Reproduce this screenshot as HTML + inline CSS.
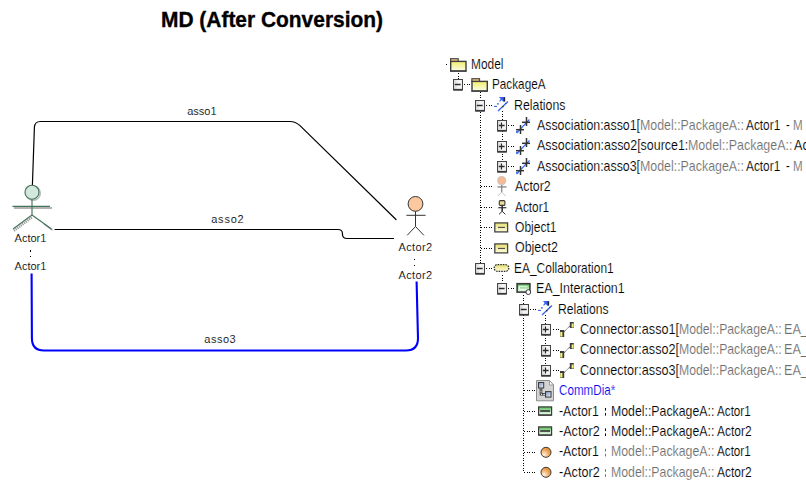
<!DOCTYPE html>
<html><head><meta charset="utf-8">
<style>
html,body{margin:0;padding:0;background:#fff;width:806px;height:491px;overflow:hidden;position:relative}
.t{position:absolute;white-space:pre;font-family:"Liberation Sans",sans-serif;font-size:14.5px;line-height:14.5px;transform-origin:0 0;-webkit-text-stroke:0.15px #fff}
.d{position:absolute;white-space:pre;font-family:"Liberation Sans",sans-serif;font-size:11px;line-height:11px;color:#000;transform-origin:0 0;-webkit-text-stroke:0.12px #fff}
.title{position:absolute;white-space:pre;font-family:"Liberation Sans",sans-serif;font-weight:bold;font-size:22px;line-height:22px;color:#000;transform-origin:0 0;transform:scaleX(0.951);-webkit-text-stroke:0.35px #000}
svg{position:absolute;left:0;top:0}
</style></head><body>
<svg width="806" height="491" viewBox="0 0 806 491">
<defs>
<linearGradient id="gfold" x1="0" y1="0" x2="0" y2="1"><stop offset="0" stop-color="#f0ee6c"/><stop offset="1" stop-color="#fdfde8"/></linearGradient>
<linearGradient id="gexp" x1="0" y1="0" x2="1" y2="0"><stop offset="0" stop-color="#d2d2d2"/><stop offset="0.55" stop-color="#f8f8f8"/><stop offset="1" stop-color="#ececec"/></linearGradient>
<linearGradient id="gobj" x1="0" y1="0" x2="0" y2="1"><stop offset="0" stop-color="#e8e070"/><stop offset="1" stop-color="#fdfbe0"/></linearGradient>
<linearGradient id="ggreen" x1="0" y1="0" x2="0" y2="1"><stop offset="0" stop-color="#50b850"/><stop offset="0.45" stop-color="#a8dca8"/><stop offset="1" stop-color="#f4fcf4"/></linearGradient>
<radialGradient id="gorange" cx="0.3" cy="0.75" r="0.8"><stop offset="0" stop-color="#fff4e6"/><stop offset="0.6" stop-color="#f0a860"/><stop offset="1" stop-color="#e08830"/></radialGradient>
<linearGradient id="gsq" x1="0" y1="0" x2="1" y2="1"><stop offset="0" stop-color="#7890c0"/><stop offset="1" stop-color="#f0f4fa"/></linearGradient>
</defs>
<g fill="none" stroke="#000" stroke-width="1.2" stroke-linecap="round" stroke-linejoin="round">
<path d="M32.4 185 L34.4 127.5 Q34.6 121.5 40.5 121.5 L290 121.5 Q295.5 121.5 300 125.6 L396 219.5"/>
<path d="M55 229.5 L338 229.5 Q342.4 229.5 342.4 233.4 L342.4 234 Q342.4 238.5 347 238.5 L393.5 238.5"/>
</g>
<path d="M31.6 273.5 L31.9 338.3 Q31.9 350.5 44 350.5 L406 350.5 Q418 350.5 418 338.3 L416.6 281.5" fill="none" stroke="#0000ff" stroke-width="2.1" stroke-linejoin="round"/>
<g fill="none" stroke="#9a9a9a" stroke-width="1.6"><line x1="14" y1="208" x2="52" y2="208"/><line x1="14" y1="230.8" x2="32.5" y2="217" stroke-width="2.4" stroke-dasharray="1.2 0.9"/><line x1="44" y1="224" x2="52.5" y2="230.2" stroke-width="1.2"/><circle cx="33.3" cy="193.3" r="7" stroke="#bbb"/></g>
<g stroke="#44735a" stroke-width="1.15" fill="none"><circle cx="32" cy="192.2" r="7" fill="#d2e8dc"/><line x1="32" y1="199.3" x2="32" y2="215"/><line x1="12.5" y1="206.4" x2="50" y2="206.4"/><line x1="32" y1="215" x2="13" y2="229"/><line x1="32" y1="215" x2="51.5" y2="229"/></g>
<g stroke="#333" stroke-width="1" fill="none"><circle cx="415.5" cy="203.9" r="7.4" fill="#fbc8a0"/><line x1="415.5" y1="211.4" x2="415.5" y2="226.5"/><line x1="406.4" y1="215.3" x2="425.6" y2="215.3"/><line x1="415.5" y1="226.5" x2="407.2" y2="235.3"/><line x1="415.5" y1="226.5" x2="423.9" y2="235.3"/></g>
<rect x="446" y="64" width="1" height="1" fill="#000"/>
<line x1="458.5" y1="73.0" x2="458.5" y2="79.0" stroke="#000" stroke-width="1" stroke-dasharray="1 2 1 1" fill="none"/>
<line x1="464" y1="84.5" x2="470" y2="84.5" stroke="#000" stroke-width="1" stroke-dasharray="1 2 1 1" fill="none"/>
<line x1="480.5" y1="92.0" x2="480.5" y2="268.5" stroke="#000" stroke-width="1" stroke-dasharray="1 2 1 1" fill="none"/>
<line x1="486" y1="105.5" x2="492" y2="105.5" stroke="#000" stroke-width="1" stroke-dasharray="1 2 1 1" fill="none"/>
<line x1="481" y1="186.5" x2="492" y2="186.5" stroke="#000" stroke-width="1" stroke-dasharray="1 2 1 1" fill="none"/>
<line x1="481" y1="207.5" x2="492" y2="207.5" stroke="#000" stroke-width="1" stroke-dasharray="1 2 1 1" fill="none"/>
<line x1="481" y1="227.5" x2="492" y2="227.5" stroke="#000" stroke-width="1" stroke-dasharray="1 2 1 1" fill="none"/>
<line x1="481" y1="248.5" x2="492" y2="248.5" stroke="#000" stroke-width="1" stroke-dasharray="1 2 1 1" fill="none"/>
<line x1="486" y1="268.5" x2="492" y2="268.5" stroke="#000" stroke-width="1" stroke-dasharray="1 2 1 1" fill="none"/>
<line x1="502.5" y1="111.0" x2="502.5" y2="166.5" stroke="#000" stroke-width="1" stroke-dasharray="1 2 1 1" fill="none"/>
<line x1="508" y1="125.5" x2="514" y2="125.5" stroke="#000" stroke-width="1" stroke-dasharray="1 2 1 1" fill="none"/>
<line x1="508" y1="146.5" x2="514" y2="146.5" stroke="#000" stroke-width="1" stroke-dasharray="1 2 1 1" fill="none"/>
<line x1="508" y1="166.5" x2="514" y2="166.5" stroke="#000" stroke-width="1" stroke-dasharray="1 2 1 1" fill="none"/>
<line x1="502.5" y1="275.0" x2="502.5" y2="283.0" stroke="#000" stroke-width="1" stroke-dasharray="1 2 1 1" fill="none"/>
<line x1="508" y1="288.5" x2="515" y2="288.5" stroke="#000" stroke-width="1" stroke-dasharray="1 2 1 1" fill="none"/>
<line x1="523.5" y1="295.0" x2="523.5" y2="472.5" stroke="#000" stroke-width="1" stroke-dasharray="1 2 1 1" fill="none"/>
<line x1="530" y1="309.5" x2="536" y2="309.5" stroke="#000" stroke-width="1" stroke-dasharray="1 2 1 1" fill="none"/>
<line x1="524" y1="390.5" x2="535" y2="390.5" stroke="#000" stroke-width="1" stroke-dasharray="1 2 1 1" fill="none"/>
<line x1="524" y1="411.5" x2="535" y2="411.5" stroke="#000" stroke-width="1" stroke-dasharray="1 2 1 1" fill="none"/>
<line x1="524" y1="431.5" x2="535" y2="431.5" stroke="#000" stroke-width="1" stroke-dasharray="1 2 1 1" fill="none"/>
<line x1="524" y1="452.5" x2="535" y2="452.5" stroke="#000" stroke-width="1" stroke-dasharray="1 2 1 1" fill="none"/>
<line x1="524" y1="472.5" x2="535" y2="472.5" stroke="#000" stroke-width="1" stroke-dasharray="1 2 1 1" fill="none"/>
<line x1="545.5" y1="315.0" x2="545.5" y2="370.5" stroke="#000" stroke-width="1" stroke-dasharray="1 2 1 1" fill="none"/>
<line x1="553" y1="329.5" x2="559" y2="329.5" stroke="#000" stroke-width="1" stroke-dasharray="1 2 1 1" fill="none"/>
<line x1="553" y1="350.5" x2="559" y2="350.5" stroke="#000" stroke-width="1" stroke-dasharray="1 2 1 1" fill="none"/>
<line x1="553" y1="370.5" x2="559" y2="370.5" stroke="#000" stroke-width="1" stroke-dasharray="1 2 1 1" fill="none"/>
<g transform="translate(453,84.50)"><rect x="0.5" y="-5" width="9" height="10.5" fill="url(#gexp)" stroke="#454545" stroke-width="1"/><line x1="0.5" y1="5.2" x2="9.5" y2="5.2" stroke="#3a3a3a" stroke-width="1.6"/><line x1="1.8" y1="0" x2="7.6" y2="0" stroke="#2a2a2a" stroke-width="1.45"/></g>
<g transform="translate(475,105.50)"><rect x="0.5" y="-5" width="9" height="10.5" fill="url(#gexp)" stroke="#454545" stroke-width="1"/><line x1="0.5" y1="5.2" x2="9.5" y2="5.2" stroke="#3a3a3a" stroke-width="1.6"/><line x1="1.8" y1="0" x2="7.6" y2="0" stroke="#2a2a2a" stroke-width="1.45"/></g>
<g transform="translate(497,125.50)"><rect x="0.5" y="-5" width="9" height="10.5" fill="url(#gexp)" stroke="#454545" stroke-width="1"/><line x1="0.5" y1="5.2" x2="9.5" y2="5.2" stroke="#3a3a3a" stroke-width="1.6"/><line x1="1.8" y1="0" x2="7.6" y2="0" stroke="#2a2a2a" stroke-width="1.45"/><line x1="4.5" y1="-3" x2="4.5" y2="3" stroke="#2a2a2a" stroke-width="1.2"/></g>
<g transform="translate(497,146.50)"><rect x="0.5" y="-5" width="9" height="10.5" fill="url(#gexp)" stroke="#454545" stroke-width="1"/><line x1="0.5" y1="5.2" x2="9.5" y2="5.2" stroke="#3a3a3a" stroke-width="1.6"/><line x1="1.8" y1="0" x2="7.6" y2="0" stroke="#2a2a2a" stroke-width="1.45"/><line x1="4.5" y1="-3" x2="4.5" y2="3" stroke="#2a2a2a" stroke-width="1.2"/></g>
<g transform="translate(497,166.50)"><rect x="0.5" y="-5" width="9" height="10.5" fill="url(#gexp)" stroke="#454545" stroke-width="1"/><line x1="0.5" y1="5.2" x2="9.5" y2="5.2" stroke="#3a3a3a" stroke-width="1.6"/><line x1="1.8" y1="0" x2="7.6" y2="0" stroke="#2a2a2a" stroke-width="1.45"/><line x1="4.5" y1="-3" x2="4.5" y2="3" stroke="#2a2a2a" stroke-width="1.2"/></g>
<g transform="translate(475,268.50)"><rect x="0.5" y="-5" width="9" height="10.5" fill="url(#gexp)" stroke="#454545" stroke-width="1"/><line x1="0.5" y1="5.2" x2="9.5" y2="5.2" stroke="#3a3a3a" stroke-width="1.6"/><line x1="1.8" y1="0" x2="7.6" y2="0" stroke="#2a2a2a" stroke-width="1.45"/></g>
<g transform="translate(497,288.50)"><rect x="0.5" y="-5" width="9" height="10.5" fill="url(#gexp)" stroke="#454545" stroke-width="1"/><line x1="0.5" y1="5.2" x2="9.5" y2="5.2" stroke="#3a3a3a" stroke-width="1.6"/><line x1="1.8" y1="0" x2="7.6" y2="0" stroke="#2a2a2a" stroke-width="1.45"/></g>
<g transform="translate(519,309.50)"><rect x="0.5" y="-5" width="9" height="10.5" fill="url(#gexp)" stroke="#454545" stroke-width="1"/><line x1="0.5" y1="5.2" x2="9.5" y2="5.2" stroke="#3a3a3a" stroke-width="1.6"/><line x1="1.8" y1="0" x2="7.6" y2="0" stroke="#2a2a2a" stroke-width="1.45"/></g>
<g transform="translate(541,329.50)"><rect x="0.5" y="-5" width="9" height="10.5" fill="url(#gexp)" stroke="#454545" stroke-width="1"/><line x1="0.5" y1="5.2" x2="9.5" y2="5.2" stroke="#3a3a3a" stroke-width="1.6"/><line x1="1.8" y1="0" x2="7.6" y2="0" stroke="#2a2a2a" stroke-width="1.45"/><line x1="4.5" y1="-3" x2="4.5" y2="3" stroke="#2a2a2a" stroke-width="1.2"/></g>
<g transform="translate(541,350.50)"><rect x="0.5" y="-5" width="9" height="10.5" fill="url(#gexp)" stroke="#454545" stroke-width="1"/><line x1="0.5" y1="5.2" x2="9.5" y2="5.2" stroke="#3a3a3a" stroke-width="1.6"/><line x1="1.8" y1="0" x2="7.6" y2="0" stroke="#2a2a2a" stroke-width="1.45"/><line x1="4.5" y1="-3" x2="4.5" y2="3" stroke="#2a2a2a" stroke-width="1.2"/></g>
<g transform="translate(541,370.50)"><rect x="0.5" y="-5" width="9" height="10.5" fill="url(#gexp)" stroke="#454545" stroke-width="1"/><line x1="0.5" y1="5.2" x2="9.5" y2="5.2" stroke="#3a3a3a" stroke-width="1.6"/><line x1="1.8" y1="0" x2="7.6" y2="0" stroke="#2a2a2a" stroke-width="1.45"/><line x1="4.5" y1="-3" x2="4.5" y2="3" stroke="#2a2a2a" stroke-width="1.2"/></g>
<g transform="translate(450.2,64.50)"><rect x="0.4" y="-5.8" width="7.6" height="3" fill="#f6c684" stroke="#4a4a4a" stroke-width="1.2"/><rect x="0.5" y="-3.1" width="15.3" height="9.6" fill="url(#gfold)" stroke="#3e3e3e" stroke-width="1.4"/><line x1="0" y1="6.6" x2="16.3" y2="6.6" stroke="#3a3a3a" stroke-width="1.2"/></g>
<g transform="translate(471.5,84.50)"><rect x="0.4" y="-5.8" width="7.6" height="3" fill="#f6c684" stroke="#4a4a4a" stroke-width="1.2"/><rect x="0.5" y="-3.1" width="15.3" height="9.6" fill="url(#gfold)" stroke="#3e3e3e" stroke-width="1.4"/><line x1="0" y1="6.6" x2="16.3" y2="6.6" stroke="#3a3a3a" stroke-width="1.2"/></g>
<g transform="translate(493.5,105.50)"><path d="M4.5 5.5 L14.5 -4" stroke="#3a62f0" stroke-width="1.3"/><path d="M5.5 -8.5 L11.6 -8.5 L11.6 -4 L9.6 -4 L8.2 -5.6 L6.6 -4 L5.5 -4.3 L7.2 -6.6 Z" fill="#3a62f0"/><rect x="10.1" y="-8.2" width="1.5" height="4.2" fill="#223"/><line x1="0.5" y1="0.9" x2="3.5" y2="0.9" stroke="#3a62f0" stroke-width="1.1"/><rect x="3.6" y="-2.4" width="1.6" height="1.5" fill="#3a62f0"/><rect x="8.6" y="0.4" width="1.4" height="1.4" fill="#333"/><rect x="11.8" y="-2.6" width="1" height="1" fill="#333"/></g>
<g transform="translate(537.5,309.50)"><path d="M4.5 5.5 L14.5 -4" stroke="#3a62f0" stroke-width="1.3"/><path d="M5.5 -8.5 L11.6 -8.5 L11.6 -4 L9.6 -4 L8.2 -5.6 L6.6 -4 L5.5 -4.3 L7.2 -6.6 Z" fill="#3a62f0"/><rect x="10.1" y="-8.2" width="1.5" height="4.2" fill="#223"/><line x1="0.5" y1="0.9" x2="3.5" y2="0.9" stroke="#3a62f0" stroke-width="1.1"/><rect x="3.6" y="-2.4" width="1.6" height="1.5" fill="#3a62f0"/><rect x="8.6" y="0.4" width="1.4" height="1.4" fill="#333"/><rect x="11.8" y="-2.6" width="1" height="1" fill="#333"/></g>
<g transform="translate(515.5,125.50)"><path d="M1 7.5 L14 -6" stroke="#3a70f0" stroke-width="1.2"/><g stroke="#333" stroke-width="1.5"><line x1="6.5" y1="-3.2" x2="14.5" y2="-3.2"/><line x1="11" y1="-8.5" x2="11" y2="0.5"/><line x1="0.5" y1="4.2" x2="8.5" y2="4.2"/><line x1="5" y1="-0.5" x2="5" y2="8.5"/></g><rect x="0.5" y="5.5" width="2.5" height="1.5" fill="#3a70f0"/></g>
<g transform="translate(515.5,146.50)"><path d="M1 7.5 L14 -6" stroke="#3a70f0" stroke-width="1.2"/><g stroke="#333" stroke-width="1.5"><line x1="6.5" y1="-3.2" x2="14.5" y2="-3.2"/><line x1="11" y1="-8.5" x2="11" y2="0.5"/><line x1="0.5" y1="4.2" x2="8.5" y2="4.2"/><line x1="5" y1="-0.5" x2="5" y2="8.5"/></g><rect x="0.5" y="5.5" width="2.5" height="1.5" fill="#3a70f0"/></g>
<g transform="translate(515.5,166.50)"><path d="M1 7.5 L14 -6" stroke="#3a70f0" stroke-width="1.2"/><g stroke="#333" stroke-width="1.5"><line x1="6.5" y1="-3.2" x2="14.5" y2="-3.2"/><line x1="11" y1="-8.5" x2="11" y2="0.5"/><line x1="0.5" y1="4.2" x2="8.5" y2="4.2"/><line x1="5" y1="-0.5" x2="5" y2="8.5"/></g><rect x="0.5" y="5.5" width="2.5" height="1.5" fill="#3a70f0"/></g>
<g transform="translate(497,186.50)"><ellipse cx="4.7" cy="-5.9" rx="4" ry="4.2" fill="#f4bc96" stroke="#c0c0c0" stroke-width="0.8"/><line x1="0.5" y1="0.4" x2="9.5" y2="0.4" stroke="#9a9a9a" stroke-width="1.6"/><line x1="4.7" y1="-1.6" x2="4.7" y2="5.5" stroke="#888" stroke-width="1.3"/><path d="M1 9.6 L4.7 5.5 L8.7 9.6" stroke="#c4c4c4" stroke-width="1" fill="none"/></g>
<g transform="translate(498,207.50)"><rect x="1.3" y="-6.9" width="5.6" height="4.8" rx="1" fill="#ecdc98" stroke="#3a3a3a" stroke-width="1.1"/><line x1="0.3" y1="0.2" x2="8.3" y2="0.2" stroke="#333" stroke-width="1.2"/><line x1="4.2" y1="-2" x2="4.2" y2="4" stroke="#333" stroke-width="1.6"/><path d="M1 6.8 L4.2 3.8 L7.4 6.8" stroke="#333" stroke-width="1" fill="none"/></g>
<g transform="translate(494,227.50)"><rect x="0.8" y="-4.6" width="12.8" height="9" fill="url(#gobj)" stroke="#444" stroke-width="1.3"/><line x1="4" y1="-0.1" x2="11" y2="-0.1" stroke="#454545" stroke-width="1.1"/></g>
<g transform="translate(494,248.50)"><rect x="0.8" y="-4.6" width="12.8" height="9" fill="url(#gobj)" stroke="#444" stroke-width="1.3"/><line x1="4" y1="-0.1" x2="11" y2="-0.1" stroke="#454545" stroke-width="1.1"/></g>
<g transform="translate(493.4,268.50)"><rect x="0.8" y="-3.9" width="14.6" height="6.8" rx="3.4" fill="url(#gobj)" stroke="#2c2c2c" stroke-width="1.3" stroke-dasharray="1.6 1"/></g>
<g transform="translate(516.3,288.50)"><rect x="0.8" y="-4.8" width="12.8" height="8.4" fill="url(#ggreen)" stroke="#3a3a3a" stroke-width="1.6"/><path d="M3 -2.2 L11 -2.2 M3.5 1 L11 1 M3 -2.2 L3 1" stroke="#f0fff0" stroke-width="0.9" fill="none"/><circle cx="12" cy="3.6" r="2.4" fill="#fff" stroke="#333" stroke-width="1"/></g>
<g transform="translate(559.8,329.50)"><line x1="4" y1="2.5" x2="10.5" y2="-4" stroke="#333" stroke-width="0.9" stroke-dasharray="1.2 0.6"/><rect x="0.2" y="0.5" width="4.2" height="7" fill="#3c3c3c"/><rect x="0.4" y="2.5" width="2.2" height="4.6" fill="#f2f27a"/><rect x="10" y="-7.5" width="4" height="6" fill="#3c3c3c"/><rect x="11.8" y="-6" width="2" height="4" fill="#f2f27a"/></g>
<g transform="translate(559.8,350.50)"><line x1="4" y1="2.5" x2="10.5" y2="-4" stroke="#333" stroke-width="0.9" stroke-dasharray="1.2 0.6"/><rect x="0.2" y="0.5" width="4.2" height="7" fill="#3c3c3c"/><rect x="0.4" y="2.5" width="2.2" height="4.6" fill="#f2f27a"/><rect x="10" y="-7.5" width="4" height="6" fill="#3c3c3c"/><rect x="11.8" y="-6" width="2" height="4" fill="#f2f27a"/></g>
<g transform="translate(559.8,370.50)"><line x1="4" y1="2.5" x2="10.5" y2="-4" stroke="#333" stroke-width="0.9" stroke-dasharray="1.2 0.6"/><rect x="0.2" y="0.5" width="4.2" height="7" fill="#3c3c3c"/><rect x="0.4" y="2.5" width="2.2" height="4.6" fill="#f2f27a"/><rect x="10" y="-7.5" width="4" height="6" fill="#3c3c3c"/><rect x="11.8" y="-6" width="2" height="4" fill="#f2f27a"/></g>
<g transform="translate(536,390.50)"><path d="M0.5 -10 L13.5 -10 L17.5 -5.5 L17.5 10.3 L0.5 10.3 Z" fill="#d4d4d4" stroke="#8c8c8c" stroke-width="1"/><path d="M13.5 -10 L13.5 -5.5 L17.5 -5.5 Z" fill="#fff" stroke="#8c8c8c" stroke-width="0.8"/><path d="M5 -3 L5 3.8 L9.5 3.8" stroke="#333" stroke-width="2.6" fill="none"/><path d="M5 -3 L5 3.8 L9.5 3.8" stroke="#f4f4f4" stroke-width="1" fill="none" stroke-dasharray="2 1"/><rect x="2.5" y="-8" width="5.2" height="5.5" fill="url(#gsq)" stroke="#3a3a3a" stroke-width="1"/><rect x="9.5" y="1.1" width="5.5" height="5.5" fill="url(#gsq)" stroke="#3a3a3a" stroke-width="1"/></g>
<g transform="translate(538,411.50)"><rect x="0.6" y="-4.6" width="13" height="8.2" fill="url(#ggreen)" stroke="#3a3a3a" stroke-width="1.2"/><line x1="2.2" y1="-0.5" x2="12" y2="-0.5" stroke="#333" stroke-width="1.6"/><line x1="0.6" y1="3.6" x2="13.6" y2="3.6" stroke="#3a3a3a" stroke-width="1.3"/></g>
<g transform="translate(538,431.50)"><rect x="0.6" y="-4.6" width="13" height="8.2" fill="url(#ggreen)" stroke="#3a3a3a" stroke-width="1.2"/><line x1="2.2" y1="-0.5" x2="12" y2="-0.5" stroke="#333" stroke-width="1.6"/><line x1="0.6" y1="3.6" x2="13.6" y2="3.6" stroke="#3a3a3a" stroke-width="1.3"/></g>
<g transform="translate(541,452.50)"><circle cx="5" cy="-0.2" r="5" fill="url(#gorange)" stroke="#3a3a3a" stroke-width="1"/></g>
<g transform="translate(541,472.50)"><circle cx="5" cy="-0.2" r="5" fill="url(#gorange)" stroke="#3a3a3a" stroke-width="1"/></g>
<rect x="30" y="250" width="1" height="2" fill="#000"/><rect x="30" y="256" width="1" height="1" fill="#000"/>
<rect x="414" y="259" width="1" height="1" fill="#000"/><rect x="414" y="265" width="1" height="1" fill="#000"/>
<rect x="605" y="408.0" width="1" height="2.6" fill="#000"/><rect x="605" y="413.0" width="1" height="2.6" fill="#000"/>
<rect x="605" y="428.4" width="1" height="2.6" fill="#000"/><rect x="605" y="433.4" width="1" height="2.6" fill="#000"/>
<rect x="605" y="448.8" width="1" height="2.6" fill="#6e6e6e"/><rect x="605" y="453.8" width="1" height="2.6" fill="#6e6e6e"/>
<rect x="605" y="469.2" width="1" height="2.6" fill="#6e6e6e"/><rect x="605" y="474.2" width="1" height="2.6" fill="#6e6e6e"/>
</svg>
<div class="title" style="left:160.5px;top:9px">MD (After Conversion)</div>
<div class="d" style="left:187.2px;top:105.69px;letter-spacing:0px">asso1</div>
<div class="d" style="left:211.2px;top:213.69px;letter-spacing:0.8px">asso2</div>
<div class="d" style="left:204.3px;top:333.69px;letter-spacing:0.5px">asso3</div>
<div class="d" style="left:14.6px;top:232.69px;letter-spacing:0px">Actor1</div>
<div class="d" style="left:14.6px;top:260.69px;letter-spacing:0px">Actor1</div>
<div class="d" style="left:398.5px;top:241.69px;letter-spacing:0.35px">Actor2</div>
<div class="d" style="left:398.5px;top:269.69px;letter-spacing:0.35px">Actor2</div>
<div class="t" style="left:471.18px;top:56.73px;color:#000;transform:scaleX(0.8205)">Model</div>
<div class="t" style="left:491.99px;top:77.13px;color:#000;transform:scaleX(0.8100)">PackageA</div>
<div class="t" style="left:513.75px;top:97.53px;color:#000;transform:scaleX(0.8514)">Relations</div>
<div class="t" style="left:537.00px;top:117.93px;color:#000;transform:scaleX(0.8521)">Association:asso1[</div>
<div class="t" style="left:640.25px;top:117.93px;color:#6e6e6e;transform:scaleX(0.8540)">Model::PackageA::</div>
<div class="t" style="left:746.00px;top:117.93px;color:#000;transform:scaleX(0.8173)">Actor1</div>
<div class="t" style="left:785.60px;top:117.93px;color:#000;transform:scaleX(0.7600)">-</div>
<div class="t" style="left:793.10px;top:117.93px;color:#6e6e6e;transform:scaleX(0.8000)">M</div>
<div class="t" style="left:537.00px;top:138.33px;color:#000;transform:scaleX(0.8571)">Association:asso2[source1:</div>
<div class="t" style="left:688.14px;top:138.33px;color:#6e6e6e;transform:scaleX(0.8573)">Model::PackageA::</div>
<div class="t" style="left:793.90px;top:138.33px;color:#000;transform:scaleX(0.8700)">Actor1</div>
<div class="t" style="left:537.00px;top:158.73px;color:#000;transform:scaleX(0.8521)">Association:asso3[</div>
<div class="t" style="left:640.25px;top:158.73px;color:#6e6e6e;transform:scaleX(0.8540)">Model::PackageA::</div>
<div class="t" style="left:746.00px;top:158.73px;color:#000;transform:scaleX(0.8173)">Actor1</div>
<div class="t" style="left:785.60px;top:158.73px;color:#000;transform:scaleX(0.7600)">-</div>
<div class="t" style="left:793.10px;top:158.73px;color:#6e6e6e;transform:scaleX(0.8000)">M</div>
<div class="t" style="left:515.30px;top:179.13px;color:#000;transform:scaleX(0.8532)">Actor2</div>
<div class="t" style="left:515.30px;top:199.53px;color:#000;transform:scaleX(0.8150)">Actor1</div>
<div class="t" style="left:515.00px;top:219.93px;color:#000;transform:scaleX(0.8315)">Object1</div>
<div class="t" style="left:515.00px;top:240.33px;color:#000;transform:scaleX(0.8576)">Object2</div>
<div class="t" style="left:514.18px;top:260.73px;color:#000;transform:scaleX(0.8244)">EA_Collaboration1</div>
<div class="t" style="left:535.84px;top:281.13px;color:#000;transform:scaleX(0.8598)">EA_Interaction1</div>
<div class="t" style="left:557.76px;top:301.53px;color:#000;transform:scaleX(0.8378)">Relations</div>
<div class="t" style="left:580.00px;top:321.93px;color:#000;transform:scaleX(0.8713)">Connector:asso1[</div>
<div class="t" style="left:679.16px;top:321.93px;color:#6e6e6e;transform:scaleX(0.8439)">Model::PackageA::</div>
<div class="t" style="left:784.13px;top:321.93px;color:#6e6e6e;transform:scaleX(0.8700)">EA_</div>
<div class="t" style="left:580.00px;top:342.33px;color:#000;transform:scaleX(0.8713)">Connector:asso2[</div>
<div class="t" style="left:679.16px;top:342.33px;color:#6e6e6e;transform:scaleX(0.8439)">Model::PackageA::</div>
<div class="t" style="left:784.13px;top:342.33px;color:#6e6e6e;transform:scaleX(0.8700)">EA_</div>
<div class="t" style="left:580.00px;top:362.73px;color:#000;transform:scaleX(0.8713)">Connector:asso3[</div>
<div class="t" style="left:679.16px;top:362.73px;color:#6e6e6e;transform:scaleX(0.8439)">Model::PackageA::</div>
<div class="t" style="left:784.13px;top:362.73px;color:#6e6e6e;transform:scaleX(0.8700)">EA_</div>
<div class="t" style="left:558.70px;top:383.13px;color:#0000f0;transform:scaleX(0.8034)">CommDia*</div>
<div class="t" style="left:558.90px;top:403.53px;color:#000;transform:scaleX(0.8528)">-Actor1</div>
<div class="t" style="left:611.35px;top:403.53px;color:#000;transform:scaleX(0.8489)">Model::PackageA::</div>
<div class="t" style="left:717.10px;top:403.53px;color:#000;transform:scaleX(0.8054)">Actor1</div>
<div class="t" style="left:558.90px;top:423.93px;color:#000;transform:scaleX(0.8699)">-Actor2</div>
<div class="t" style="left:611.35px;top:423.93px;color:#000;transform:scaleX(0.8489)">Model::PackageA::</div>
<div class="t" style="left:717.10px;top:423.93px;color:#000;transform:scaleX(0.8269)">Actor2</div>
<div class="t" style="left:558.90px;top:444.33px;color:#000;transform:scaleX(0.8528)">-Actor1</div>
<div class="t" style="left:611.35px;top:444.33px;color:#6e6e6e;transform:scaleX(0.8489)">Model::PackageA::</div>
<div class="t" style="left:717.10px;top:444.33px;color:#000;transform:scaleX(0.8054)">Actor1</div>
<div class="t" style="left:558.90px;top:464.73px;color:#000;transform:scaleX(0.8699)">-Actor2</div>
<div class="t" style="left:611.35px;top:464.73px;color:#6e6e6e;transform:scaleX(0.8489)">Model::PackageA::</div>
<div class="t" style="left:717.10px;top:464.73px;color:#000;transform:scaleX(0.8269)">Actor2</div>
</body></html>
